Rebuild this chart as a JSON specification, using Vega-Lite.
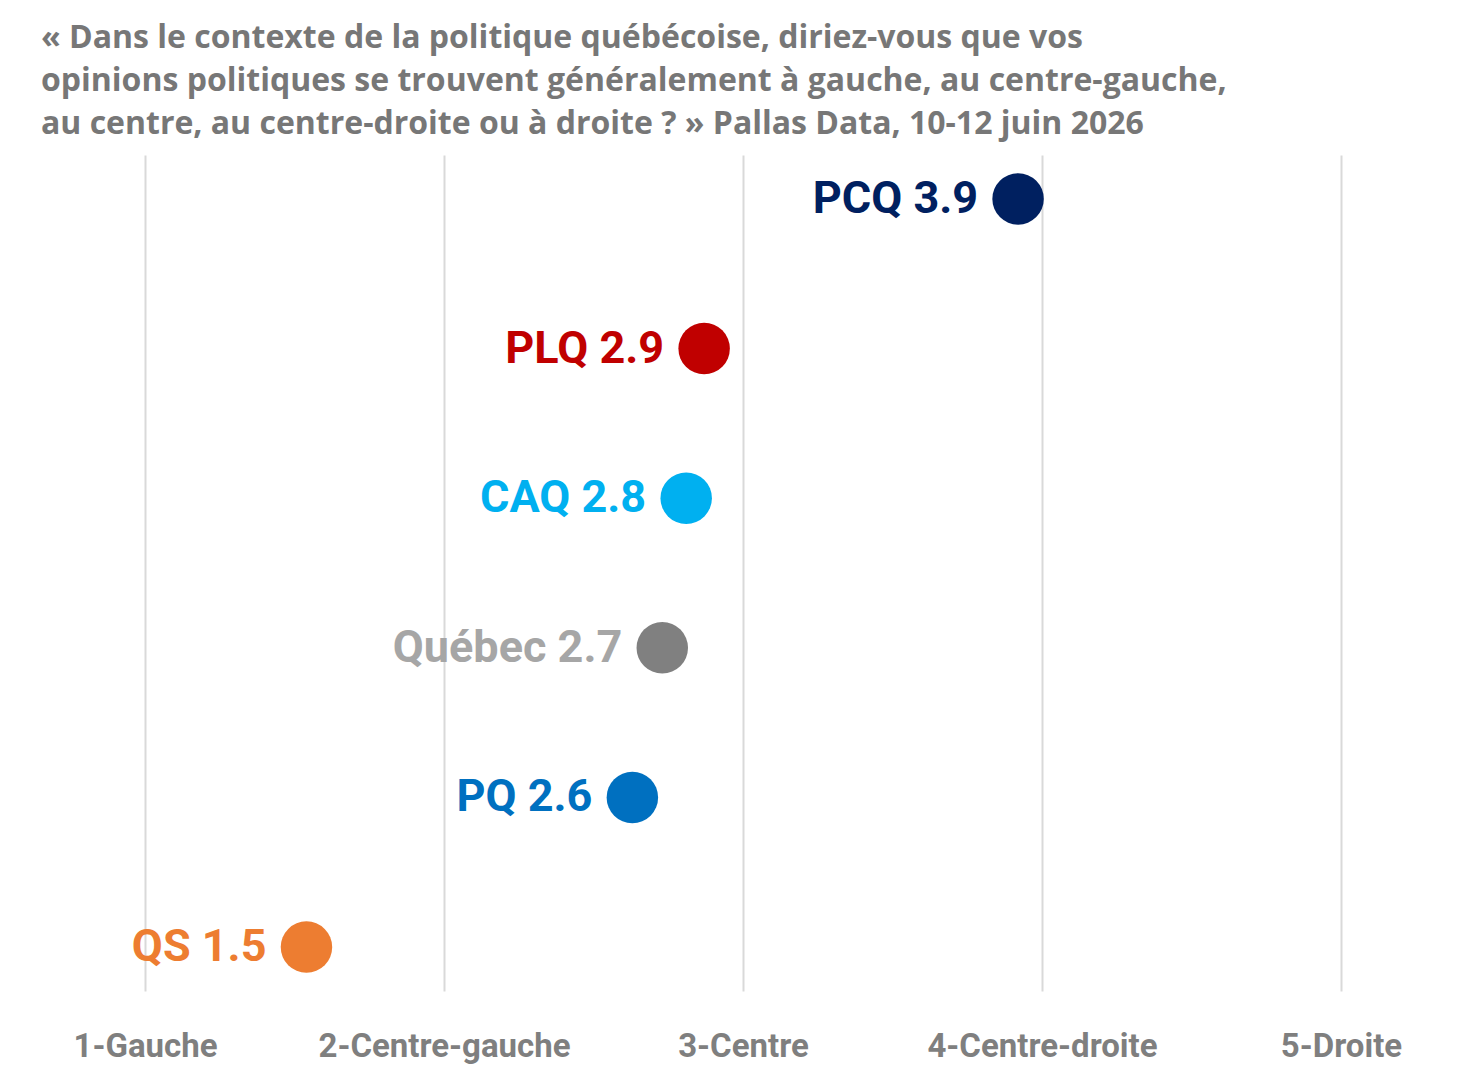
{
  "$schema": "https://vega.github.io/schema/vega-lite/v6.json",
  "width": 1196,
  "height": 836,
  "autosize": {"type": "none"},
  "padding": {"left": 145, "top": 155, "right": 126, "bottom": 82},
  "background": "white",
  "view": {"stroke": null},
  "title": {
    "text": [
      "« Dans le contexte de la politique québécoise, diriez-vous que vos",
      "opinions politiques se trouvent généralement à gauche, au centre-gauche,",
      "au centre, au centre-droite ou à droite ? » Pallas Data, 10-12 juin 2026"
    ],
    "anchor": "start",
    "dx": -32,
    "offset": 14,
    "font": "Open Sans",
    "fontSize": 32,
    "fontWeight": "bold",
    "color": "#777777",
    "lineHeight": 43
  },
  "data": {
    "values": [
      {"parti": "PCQ", "score": 3.92, "label": "PCQ 3.9"},
      {"parti": "PLQ", "score": 2.87, "label": "PLQ 2.9"},
      {"parti": "CAQ", "score": 2.81, "label": "CAQ 2.8"},
      {"parti": "Québec", "score": 2.73, "label": "Québec 2.7"},
      {"parti": "PQ", "score": 2.63, "label": "PQ 2.6"},
      {"parti": "QS", "score": 1.54, "label": "QS 1.5"}
    ]
  },
  "encoding": {
    "x": {
      "field": "score",
      "type": "quantitative",
      "scale": {"domain": [1, 5], "nice": false, "zero": false},
      "axis": {
        "values": [1, 2, 3, 4, 5],
        "labelExpr": "{'1': '1-Gauche', '2': '2-Centre-gauche', '3': '3-Centre', '4': '4-Centre-droite', '5': '5-Droite'}[datum.value]",
        "title": null,
        "domain": false,
        "ticks": false,
        "grid": true,
        "gridColor": "#d9d9d9",
        "gridWidth": 2,
        "labelFont": "Roboto",
        "labelFontSize": 33,
        "labelFontWeight": "bold",
        "labelColor": "#7f7f7f",
        "labelPadding": 39,
        "labelLimit": 0,
        "labelOverlap": false,
        "labelFlush": false
      }
    },
    "y": {
      "field": "parti",
      "type": "nominal",
      "sort": null,
      "scale": {"type": "point", "padding": 0.2935},
      "axis": null
    }
  },
  "layer": [
    {
      "mark": {"type": "circle", "size": 2650, "opacity": 1},
      "encoding": {
        "color": {
          "field": "parti",
          "type": "nominal",
          "scale": {
            "domain": ["PCQ", "PLQ", "CAQ", "Québec", "PQ", "QS"],
            "range": ["#002060", "#c00000", "#00b0f0", "#808080", "#0070c0", "#ed7d31"]
          },
          "legend": null
        }
      }
    },
    {
      "mark": {
        "type": "text",
        "align": "right",
        "baseline": "middle",
        "dx": -40,
        "font": "Roboto",
        "fontSize": 45,
        "fontWeight": "bold",
        "letterSpacing": -1
      },
      "encoding": {
        "text": {"field": "label"},
        "color": {
          "field": "parti",
          "type": "nominal",
          "scale": {
            "domain": ["PCQ", "PLQ", "CAQ", "Québec", "PQ", "QS"],
            "range": ["#002060", "#c00000", "#00b0f0", "#a6a6a6", "#0070c0", "#ed7d31"]
          },
          "legend": null
        }
      }
    }
  ],
  "resolve": {"scale": {"color": "independent"}}
}
